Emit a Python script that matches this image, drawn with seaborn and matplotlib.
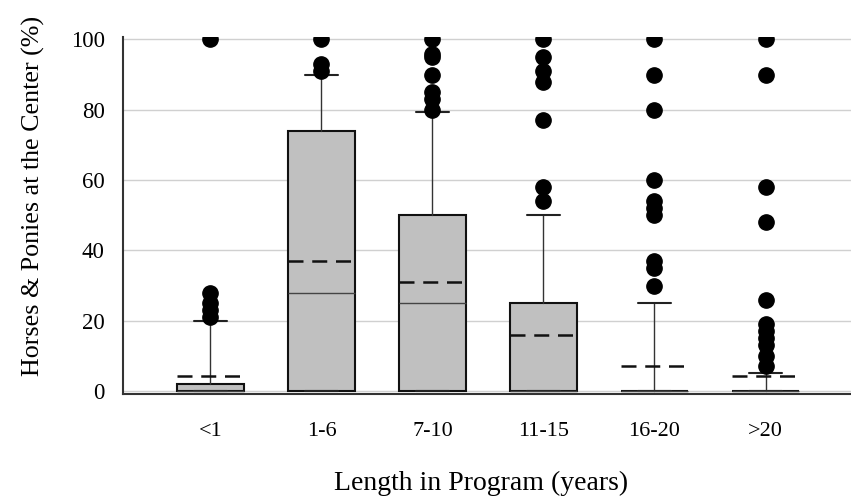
import matplotlib
matplotlib.use("Agg")
import matplotlib.pyplot as plt
import seaborn as sns

# ---- data ----
categories = ["<1", "1-6", "7-10", "11-15", "16-20", ">20"]
q1 = [0, 0, 0, 0, 0, 0]
median = [0, 28, 25, 0, 0, 0]
q3 = [2, 74, 50, 25, 0, 0]
whisker_low = [0, 0, 0, 0, 0, 0]
whisker_high = [20, 90, 79.5, 50, 25, 5]
means = [4.4, 37, 31, 15.8, 7.1, 4.4]
outliers = [
    [21, 23, 25, 28, 100],
    [91, 93, 100],
    [80, 83, 85, 90, 95, 96, 100],
    [54, 58, 77, 88, 91, 95, 100],
    [30, 35, 37, 50, 52, 54, 60, 80, 90, 100],
    [7, 10, 13, 15, 17, 19, 26, 48, 58, 90, 100],
]
y_ticks = [0, 20, 40, 60, 80, 100]

sns.set_theme(style="whitegrid")
plt.rcParams["font.family"] = ["Liberation Serif", "DejaVu Serif"]

fig = plt.figure(figsize=(8.51, 4.97), dpi=100)
ax = fig.add_axes([0.1442, 0.2066, 0.8558, 0.719])

stats = []
for i, c in enumerate(categories):
    stats.append(dict(label=c, q1=q1[i], med=median[i], q3=q3[i],
                      whislo=whisker_low[i], whishi=whisker_high[i],
                      mean=means[i], fliers=outliers[i]))

ax.bxp(stats, positions=list(range(len(categories))), widths=0.6,
       capwidths=0.3, patch_artist=True, showmeans=True, meanline=True,
       boxprops=dict(facecolor="#c0c0c0", edgecolor="#111111", linewidth=1.5),
       medianprops=dict(color="#444444", linewidth=1.0),
       whiskerprops=dict(color="#333333", linewidth=1.0),
       capprops=dict(color="#222222", linewidth=1.5),
       meanprops=dict(color="#111111", linewidth=1.8, linestyle=(0, (6, 3.5))),
       flierprops=dict(marker="o", markerfacecolor="black",
                       markeredgecolor="black", markersize=11))

ax.set_xlim(-0.79, 5.77)
ax.set_ylim(-0.94, 100.7)
ax.set_yticks(y_ticks)
ax.set_xticks(range(len(categories)))
ax.set_xticklabels(categories)

ax.grid(axis="y", color="#d0d0d0", linewidth=1.0)
ax.grid(axis="x", visible=False)
ax.set_facecolor("white")
for s in ["top", "right"]:
    ax.spines[s].set_visible(False)
for s in ["left", "bottom"]:
    ax.spines[s].set_visible(True)
    ax.spines[s].set_color("#333333")
    ax.spines[s].set_linewidth(1.5)

ax.tick_params(axis="both", which="both", direction="out", length=7,
               width=1.2, color="#333333", labelcolor="black")
ax.tick_params(axis="x", pad=13, labelsize=16)
ax.tick_params(axis="y", pad=6, labelsize=16.5)

ax.set_xlabel("Length in Program (years)", fontsize=20, color="black", va="top")
ax.xaxis.set_label_coords(0.492, -0.214)
ax.set_ylabel("Horses & Ponies at the Center (%)", fontsize=18.7, color="black")
ax.yaxis.set_label_coords(-0.107, 0.556)

fig.savefig("out.png", dpi=100, facecolor="white")
